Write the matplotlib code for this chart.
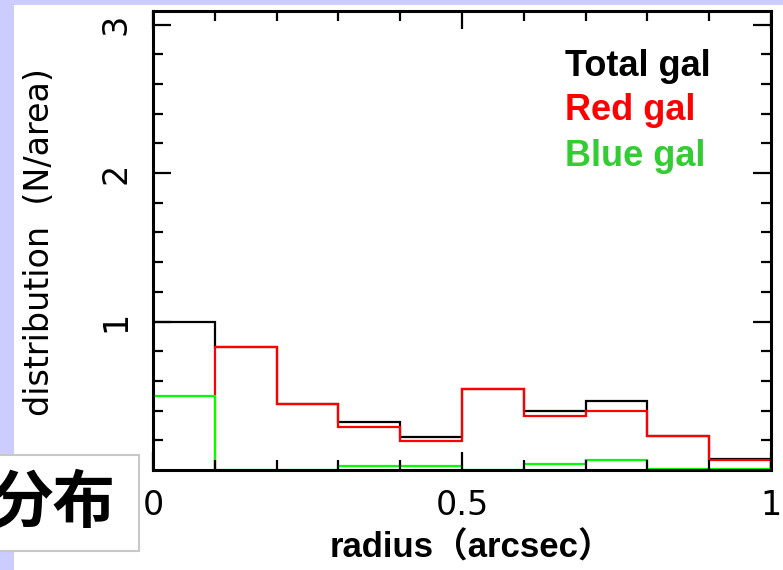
import matplotlib
matplotlib.use("Agg")
import matplotlib.pyplot as plt
from matplotlib.patches import Rectangle
import numpy as np

# ---- data ----
radius_edges = [0.0, 0.1, 0.2, 0.3, 0.4, 0.5, 0.6, 0.7, 0.8, 0.9, 1.0]
total_gal = [1.00, 0.83, 0.445, 0.32, 0.225, 0.546, 0.398, 0.465, 0.232, 0.075]
red_gal   = [0.00, 0.83, 0.445, 0.29, 0.195, 0.546, 0.364, 0.398, 0.232, 0.065]
blue_gal  = [0.50, 0.00, 0.000, 0.03, 0.030, 0.000, 0.043, 0.065, 0.010, 0.010]
legend_labels = ["Total gal", "Red gal", "Blue gal"]
x_ticks = [0, 0.5, 1]
x_ticklabels = ["0", "0.5", "1"]
y_ticks = [1, 2, 3]
y_ticklabels = ["1", "2", "3"]

W, H = 783, 570
fig = plt.figure(figsize=(W / 100, H / 100), dpi=100)
fig.patch.set_facecolor("white")

def fx(px):
    return px / W

def fy(py):
    return 1 - py / H

# lavender slide background strips
fig.patches.append(Rectangle((0, 0), fx(13.5), 1, transform=fig.transFigure,
                             facecolor="#ccccff", edgecolor="none", zorder=0.5))
fig.patches.append(Rectangle((0, fy(4.7)), 1, 4.7 / H, transform=fig.transFigure,
                             facecolor="#ccccff", edgecolor="none", zorder=0.5))

ax = fig.add_axes([fx(153), fy(470), fx(771 - 153), (470 - 11) / H])
ax.set_facecolor("white")

thin = dict(family="DejaVu Sans", weight="normal")

ax.stairs(total_gal, radius_edges, color="black", lw=1.6, zorder=1)
# the red histogram's first (empty) bin lies on the axis; start at the first non-empty bin
first = next(i for i, v in enumerate(red_gal) if v > 0)
ax.stairs(red_gal[first:], radius_edges[first:], color="#ff0000", lw=1.6, zorder=1.1)
ax.stairs(blue_gal, radius_edges, color="#00ff00", lw=1.6, zorder=1.2)

ax.set_xlim(0, 1)
ax.set_ylim(0, 459 / 148.5)
ax.set_xticks(x_ticks)
ax.set_xticklabels(x_ticklabels, fontsize=24, **thin)
ax.set_xticks(np.arange(0.1, 1.0, 0.1), minor=True)
ax.set_yticks(y_ticks)
ax.set_yticklabels(y_ticklabels, fontsize=24, rotation=90, va="center", **thin)
ax.set_yticks([0.2, 0.4, 0.6, 0.8, 1.2, 1.4, 1.6, 1.8, 2.2, 2.4, 2.6, 2.8], minor=True)

ax.tick_params(which="both", direction="in", top=True, right=True, width=1.6, color="black")
ax.tick_params(which="major", length=13)
ax.tick_params(which="minor", length=7)
ax.tick_params(axis="x", which="major", pad=14)
ax.tick_params(axis="y", which="major", pad=15)
for s in ax.spines.values():
    s.set_linewidth(2.2)
    s.set_zorder(3)

# y label
fig.text(fx(40), fy(242), "distribution  (N/area)", rotation=90, ha="center", va="center",
         fontsize=24, **thin)

# legend texts
leg_colors = ["black", "#ff0000", "#33cc33"]
leg_base = [76, 120, 166]
for lab, c, b in zip(legend_labels, leg_colors, leg_base):
    fig.text(fx(565), fy(b), lab, color=c, fontsize=26, fontweight="bold",
             family="Liberation Sans", ha="left", va="baseline")

# white cover under the x label (clips the 0.5 label as in the reference)
fig.patches.append(Rectangle((fx(330), 0), fx(285), (570 - 515) / H,
                             transform=fig.transFigure, facecolor="white",
                             edgecolor="none", zorder=1.5))

# x label
fig.text(fx(471), fy(548), "radius（arcsec）", ha="center", va="center", fontsize=25,
         fontweight="bold", family=["Liberation Sans", "Noto Sans CJK JP"], zorder=3)

# "分布" box
fig.patches.append(Rectangle((fx(-5), fy(551)), fx(144), 96 / H, transform=fig.transFigure,
                             facecolor="white", edgecolor="#c8c8c8", lw=1.5, zorder=2))
fig.text(fx(115), fy(503), "分布", ha="right", va="center", fontsize=45,
         fontweight="bold", family=["Noto Sans CJK JP", "DejaVu Sans"], zorder=3)

fig.savefig("out.png", dpi=100, facecolor="white")
